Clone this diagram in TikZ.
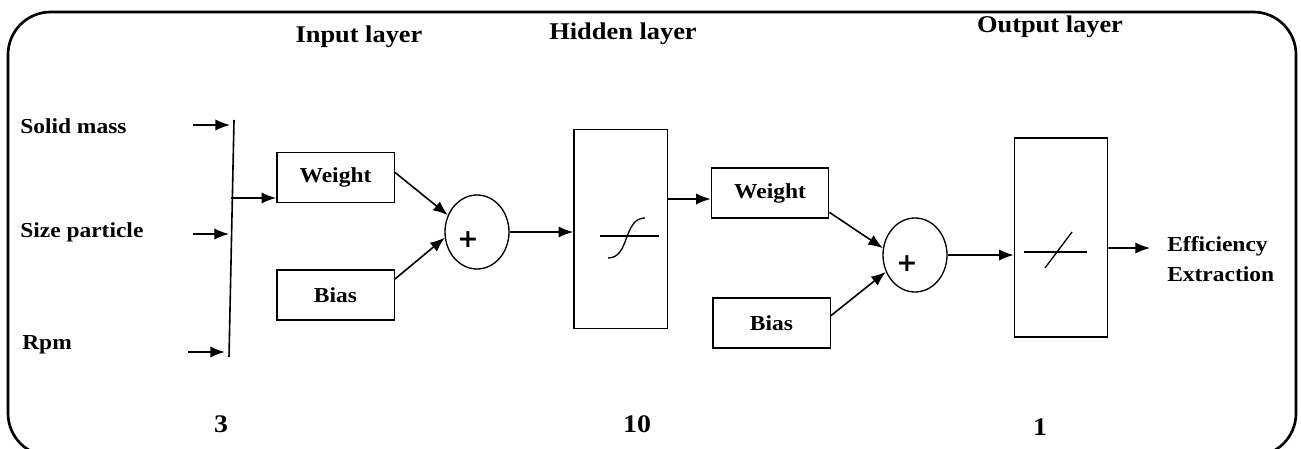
\documentclass[tikz,border=0pt]{standalone}
\usepackage{fontspec}
\setmainfont{Liberation Serif}[FakeStretch=1.1]
\newfontfamily\plusfont{DejaVu Sans}
\usetikzlibrary{positioning,arrows.meta,shapes.geometric}

\tikzset{
  >={Latex[length=11pt,width=8.5pt]},
  lbl/.style={font=\bfseries\fontsize{16}{22.5}\selectfont, inner sep=0pt},
  head/.style={font=\bfseries\fontsize{18}{22}\selectfont, inner sep=0pt, anchor=base},
  num/.style={font=\bfseries\fontsize{19}{22}\selectfont, inner sep=0pt, anchor=base},
  plus/.style={font=\plusfont\bfseries\fontsize{19}{19}\selectfont, inner sep=0pt},
  wbox/.style={draw, line width=1pt, minimum width=88pt, minimum height=37.5pt,
    inner sep=0pt, font=\bfseries\fontsize{16}{20}\selectfont},
  layerbox/.style={draw, line width=1pt, minimum width=70pt, minimum height=149pt},
  sumnode/.style={draw, ellipse, line width=1pt, minimum width=48pt,
    minimum height=55.5pt, inner sep=0pt},
  conn/.style={->, line width=1.2pt},
}

\begin{document}
\begin{tikzpicture}[x=0.75pt,y=-0.75pt]
  \clip (0,0) rectangle (1301,449);
  % Frame
  \draw[line width=2pt, rounded corners=32pt] (8,12) rectangle (1296,456);
  % Layer titles
  \node[head] (tin) at (359,43) {Input layer};
  \node[head] (thid) at (623,40) {Hidden layer};
  \node[head] (tout) at (1050,33) {Output layer};
  % Inputs
  \node[lbl, anchor=base west] (solid) at (20,134) {Solid mass};
  \node[lbl, anchor=base west] (size) at (20,237) {Size particle};
  \node[lbl, anchor=base west] (rpm) at (22,349) {Rpm};
  \coordinate (bustop) at (234,120);
  \coordinate (busbot) at (229,357);
  \draw[line width=1.2pt] (bustop) -- (busbot);
  \foreach \nm/\xa/\xb/\yy in {solid/193/230/125, size/193/229/234, rpm/188/225/352}{
    \coordinate (\nm-a) at (\xa,\yy);
    \coordinate (\nm-b) at (\xb,\yy);
    \draw[conn] (\nm-a) -- (\nm-b);
  }
  % Input layer
  \node[wbox] (w1) at (335.5,177.5) {Weight};
  \node[wbox] (b1) at (335.5,295) {Bias};
  \node[sumnode] (sum1) at (477,232) {};
  \node[plus] (plus1) at (468,240) {+};
  \coordinate (tap) at (231,198);
  \draw[conn] (tap) -- (tap -| w1.west);
  \draw[conn] (w1.5) -- (sum1.150);
  \draw[conn] (b1.15) -- (sum1.190);
  % Hidden layer
  \node[layerbox] (hid) at (620.5,229) {};
  \draw[line width=1pt] (600,236) -- (659,236);
  \draw[line width=1pt] (608,258) .. controls (630,258) and (623,218) .. (645,218);
  \draw[conn] (sum1.east) -- (sum1.east -| hid.west);
  \node[wbox] (w2) at (770,193) {Weight};
  \node[wbox] (b2) at (771.5,323) {Bias};
  \node[sumnode] (sum2) at (915,255) {};
  \node[plus] (plus2) at (907,264) {+};
  \coordinate (w2in) at ([yshift=-4.5pt]w2.west);
  \draw[conn] (w2in -| hid.east) -- (w2in);
  \draw[conn] (w2.-18) -- (sum2.168);
  \draw[conn] (b2.7) -- (sum2.210);
  % Output layer
  \node[layerbox] (out) at (1061,237.5) {};
  \draw[line width=1pt] (1024,252) -- (1087,252);
  \draw[line width=1pt] (1045,268) -- (1072,232);
  \draw[conn] (sum2.east) -- (sum2.east -| out.west);
  \node[lbl, anchor=west, align=left] (eff) at (1167,259) {Efficiency\\Extraction};
  \coordinate (outtap) at ([yshift=-7.9pt]out.east);
  \coordinate (effin) at (1150,248);
  \draw[conn] (outtap) -- (effin);
  % Neuron counts
  \node[num] (n3) at (221,432) {3};
  \node[num] (n10) at (637,432) {10};
  \node[num] (n1) at (1040,435) {1};
\end{tikzpicture}
\end{document}
